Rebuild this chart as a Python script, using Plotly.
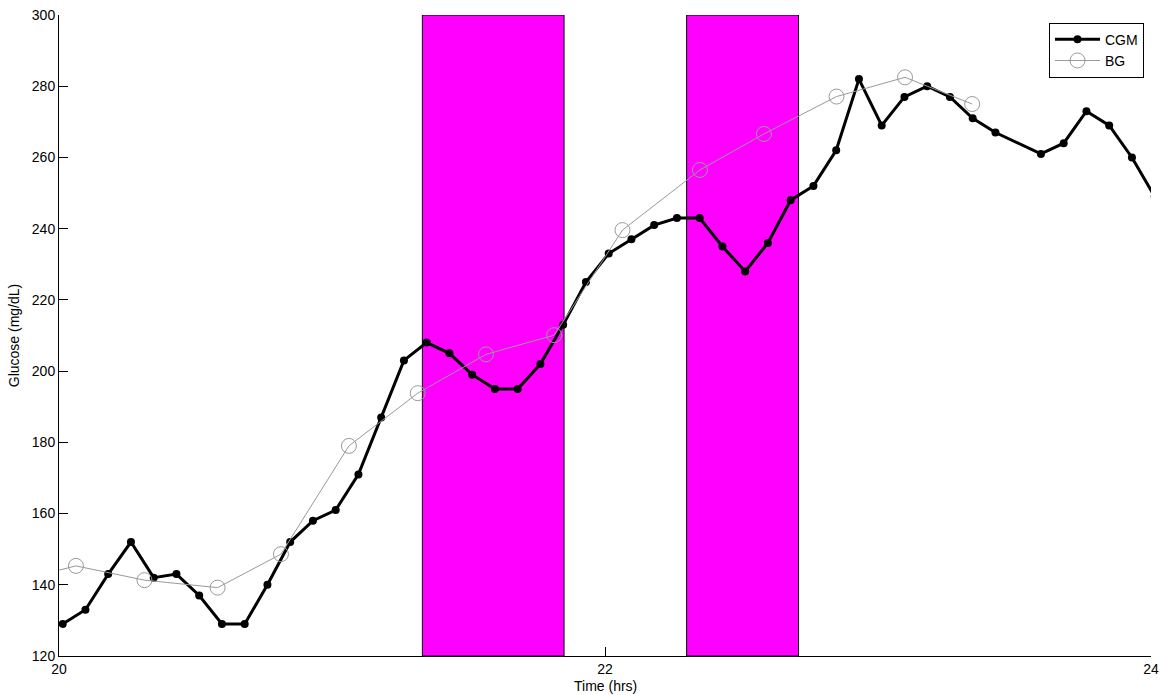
import plotly.graph_objects as go

# CGM readings every 5 minutes (hours)
cgm_t0 = 20.0135
cgm_values = [129, 133, 143, 152, 142, 143, 137, 129, 129, 140, 152, 158, 161, 171, 187, 203,
              208, 205, 199, 195, 195, 202, 213, 225, 233, 237, 241, 243, 243, 235, 228, 236,
              248, 252, 262, 282, 269, 277, 280, 277, 271, 267, None, 261, 264, 273, 269, 260, 249]
cgm_time = [cgm_t0 + k * 5 / 60 for k in range(len(cgm_values))]
cgm_time_clean = [t for t, v in zip(cgm_time, cgm_values) if v is not None]
cgm_values_clean = [v for v in cgm_values if v is not None]

# Blood glucose fingersticks
bg_time = [19.812, 20.062, 20.313, 20.581, 20.813, 21.062, 21.314, 21.564, 21.814, 22.064,
           22.348, 22.582, 22.848, 23.099, 23.345]
bg_values = [140.5, 145.3, 141.3, 139.2, 148.6, 179.0, 193.8, 204.7, 210.1, 239.6,
             256.5, 266.6, 277.1, 282.5, 275.0]

# Shaded intervals
band_start = [21.331, 22.299]
band_end = [21.850, 22.709]

x_ticks = [20, 22, 24]
y_ticks = list(range(120, 301, 20))

FONT = "Liberation Sans, Arial, Helvetica, sans-serif"

fig = go.Figure()

fig.add_trace(go.Scatter(
    x=cgm_time_clean, y=cgm_values_clean, name="CGM", mode="lines+markers",
    line=dict(color="black", width=3),
    marker=dict(color="black", size=8, symbol="circle"),
))
fig.add_trace(go.Scatter(
    x=bg_time, y=bg_values, name="BG", mode="lines+markers",
    line=dict(color="#999999", width=1),
    marker=dict(color="#999999", size=15, symbol="circle-open", line=dict(width=1, color="#999999")),
))

for s, e in zip(band_start, band_end):
    fig.add_shape(type="rect", xref="x", yref="y", x0=s, x1=e, y0=120, y1=300,
                  fillcolor="#ff00ff", line=dict(color="black", width=1), layer="below")

fig.add_annotation(text="Time (hrs)", xref="paper", yref="paper", x=0.5, y=0,
                   xanchor="center", yanchor="middle", yshift=-30, showarrow=False,
                   font=dict(family=FONT, size=14, color="black"))

fig.update_layout(
    width=1160, height=695,
    margin=dict(l=59, r=9, t=15, b=39, autoexpand=False),
    paper_bgcolor="white", plot_bgcolor="white",
    font=dict(family=FONT, size=14, color="black"),
    showlegend=True,
    legend=dict(
        x=0.9936, xanchor="right", y=0.988, yanchor="top",
        bgcolor="white", bordercolor="black", borderwidth=1,
        font=dict(family=FONT, size=14, color="black"),
        tracegroupgap=0, itemsizing="trace", itemwidth=45,
    ),
)

fig.update_xaxes(
    range=[20, 24], tickvals=x_ticks, ticktext=[str(t) for t in x_ticks],
    showgrid=False, zeroline=False, showline=True, linecolor="black", linewidth=1,
    ticks="inside", ticklen=9, tickcolor="black", tickwidth=1, mirror=False,
    tickfont=dict(size=14), automargin=False, ticklabelstandoff=0,
)
fig.update_yaxes(
    range=[120, 300], tickvals=y_ticks, ticktext=[str(t) for t in y_ticks],
    showgrid=False, zeroline=False, showline=True, linecolor="black", linewidth=1,
    ticks="inside", ticklen=9, tickcolor="black", tickwidth=1, mirror=False,
    title=dict(text="Glucose (mg/dL)", standoff=8, font=dict(size=14)),
    tickfont=dict(size=14), automargin=False,
)

fig.write_html("out.html")
